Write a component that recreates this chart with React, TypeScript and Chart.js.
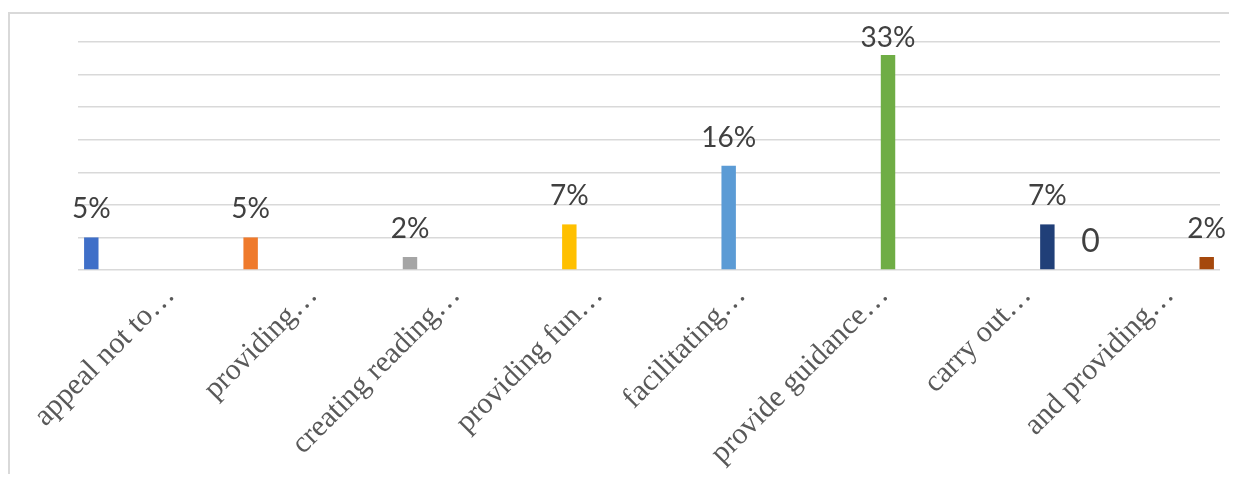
import React, { useEffect, useRef } from "react";
import { Chart, registerables } from "chart.js";

Chart.register(...registerables);

const categories = [
  "appeal not to…",
  "providing…",
  "creating reading…",
  "providing fun…",
  "facilitating…",
  "provide guidance…",
  "carry out…",
  "and providing…",
];
const values = [5, 5, 2, 7, 16, 33, 7, 2];
const firstSeriesExtra = [null, null, null, null, null, null, null, 0];
const colors = ["#3F6FC8", "#EF7A2C", "#A5A5A5", "#FFC000", "#5B9BD5", "#6FAD45", "#203F78", "#A5480C"];
const yTicks = { min: 0, max: 35, step: 5 };

const W = 1229;
const H = 466;

const labelPlugin = {
  id: "valueLabels",
  afterDatasetsDraw(chart: any) {
    const ctx = chart.ctx;
    const top = chart.chartArea.top;
    ctx.save();
    ctx.fillStyle = "#404040";
    ctx.textAlign = "center";
    ctx.textBaseline = "alphabetic";
    chart.data.datasets.forEach((ds: any, di: number) => {
      const meta = chart.getDatasetMeta(di);
      meta.data.forEach((el: any, i: number) => {
        const v = ds.data[i];
        if (v === null || v === undefined) return;
        if (v === 0) {
          ctx.font = "32px Lato";
          ctx.fillText("0", el.x, el.y - 18);
        } else {
          ctx.font = "28px Lato";
          ctx.fillText(v + "%", el.x, Math.max(el.y - 19, top + 5));
        }
      });
    });
    ctx.restore();
  },
};

export default function App() {
  const ref = useRef<HTMLCanvasElement>(null);
  useEffect(() => {
    if (!ref.current) return;
    const datasets = categories.map((_, i) => ({
      label: "s" + i,
      data: categories.map((__, j) => (j === i ? values[i] : i === 0 ? firstSeriesExtra[j] : null)),
      backgroundColor: colors[i],
      borderWidth: 0,
      categoryPercentage: 0.93,
      barPercentage: 0.87,
    }));
    const chart = new Chart(ref.current, {
      type: "bar",
      data: { labels: categories, datasets },
      options: {
        animation: false,
        responsive: false,
        layout: { padding: { left: 70, right: 17, top: 34, bottom: 0 } },
        plugins: { legend: { display: false }, tooltip: { enabled: false } },
        scales: {
          x: {
            grid: { display: false },
            border: { display: false },
            ticks: {
              autoSkip: false,
              minRotation: 45,
              maxRotation: 45,
              padding: 0,
              labelOffset: 21,
              color: "#595959",
              font: { family: "Liberation Serif", size: 30 },
            },
            afterFit: (s: any) => {
              s.height = H - 262;
              s.paddingLeft = 0;
              s.paddingRight = 0;
            },
          },
          y: {
            min: yTicks.min,
            max: yTicks.max,
            ticks: { display: false, stepSize: yTicks.step },
            grid: { color: "#D9D9D9", lineWidth: 1.5, drawTicks: false },
            border: { display: false },
            afterFit: (s: any) => {
              s.width = 0;
            },
          },
        },
      },
      plugins: [labelPlugin],
    });
    return () => chart.destroy();
  }, []);
  return (
    <div style={{ position: "relative", width: W, height: H }}>
      <div
        style={{
          position: "absolute",
          left: 0,
          top: 4,
          right: 0,
          bottom: -8,
          borderLeft: "2px solid #D9D9D9",
          borderTop: "2px solid #D9D9D9",
        }}
      />
      <canvas ref={ref} width={W} height={H} style={{ position: "relative", width: W, height: H }} />
    </div>
  );
}
